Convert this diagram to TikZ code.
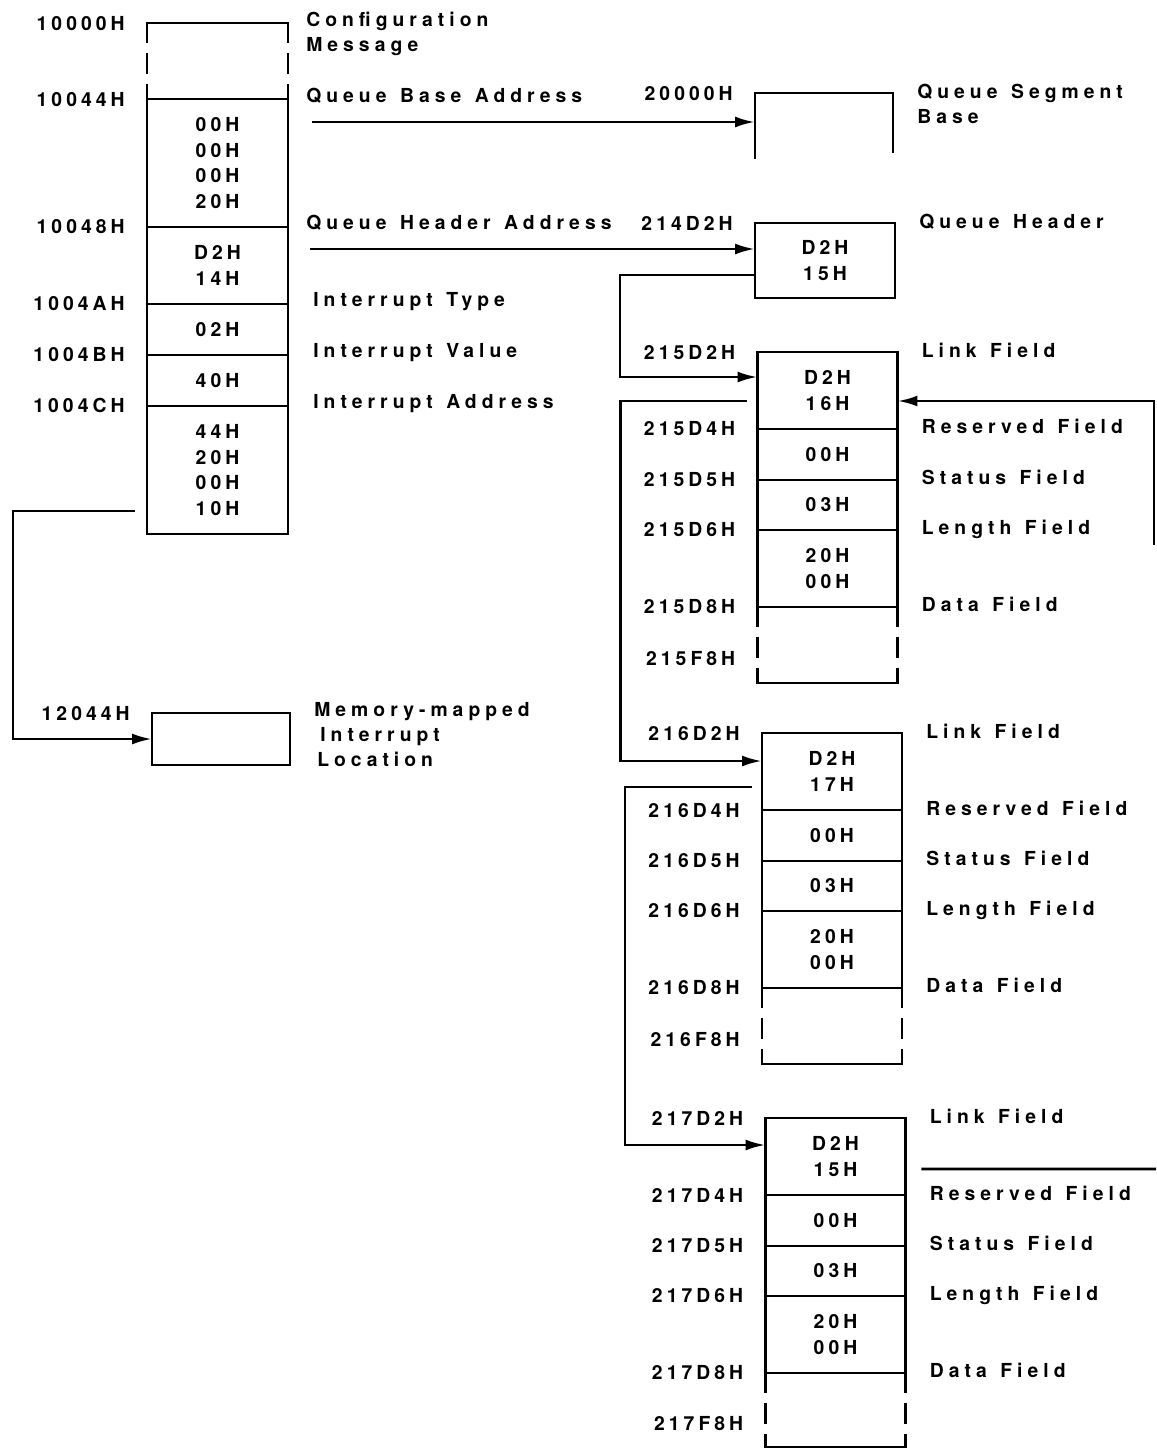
\documentclass[tikz,border=0pt]{standalone}
\usepackage{fontspec}
\newfontfamily\numfont[LetterSpace=21]{TeX Gyre Heros Bold}
\newfontfamily\wordfont[LetterSpace=26,WordSpace=1.3]{TeX Gyre Heros Bold}
\usetikzlibrary{positioning,arrows.meta}

\begin{document}
\begin{tikzpicture}[
  x=0.02cm, y=-0.02cm,
  >={Latex[length=4mm,width=2.2mm]},
  wire/.style={line width=1.6pt},
  link/.style={wire, ->},
  gapside/.style={wire, dash pattern=on 0.4cm off 0.2cm on 0.42cm off 0.2cm on 0.4cm},
  cell/.style={draw, line width=1.6pt, outer sep=0pt, inner sep=0pt, minimum width=2.8cm,
               align=center, font=\numfont\fontsize{11}{14.5}\selectfont},
  hole/.style={cell, draw=none},
  addr/.style={anchor=base east, inner sep=0pt, xshift=-0.44cm, yshift=-0.14cm,
               font=\numfont\fontsize{11}{14.5}\selectfont},
  tag/.style={anchor=base west, inner sep=0pt, xshift=0.48cm, yshift=-0.1cm, align=left,
              font=\wordfont\fontsize{11}{14.5}\selectfont},
  tagtwo/.style={tag, yshift=-14.5pt},
  tagthree/.style={tag, yshift=-29pt}
]
\useasboundingbox (0,0) rectangle (1156,1450);

% configuration message in memory
\node[cell, minimum width=2.82cm, minimum height=2.56cm] (c1) at (217.5,163) {00H\\00H\\00H\\20H};
\node[hole, minimum width=2.82cm, minimum height=1.52cm, above=0pt of c1] (cfg) {};
\node[cell, minimum width=2.82cm, minimum height=1.54cm, below=0pt of c1] (c2) {D2H\\14H};
\node[cell, minimum width=2.82cm, minimum height=1.02cm, below=0pt of c2] (c3) {02H};
\node[cell, minimum width=2.82cm, minimum height=1.02cm, below=0pt of c3] (c4) {40H};
\node[cell, minimum width=2.82cm, minimum height=2.56cm, below=0pt of c4] (c5) {44H\\20H\\00H\\10H};
\draw[wire, line cap=rect] (cfg.north west) -- (cfg.north east);
\draw[gapside] (cfg.north west) -- (cfg.south west) (cfg.north east) -- (cfg.south east);

\node[addr] (a10000) at (cfg.north west) {10000H};
\node[addr] (a10044) at (c1.north west)  {10044H};
\node[addr] (a10048) at (c2.north west)  {10048H};
\node[addr] (a1004a) at (c3.north west)  {1004AH};
\node[addr] (a1004b) at (c4.north west)  {1004BH};
\node[addr] (a1004c) at (c5.north west)  {1004CH};

\node[tagtwo, xshift=-0.12cm, yshift=0.04cm] (tcfg) at (cfg.north east) {Configuration\\Message};
\node[tag, xshift=-0.12cm, yshift=0.04cm] (tqba) at (c1.north east)  {Queue Base Address};
\node[tag, xshift=-0.12cm, yshift=0.04cm] (tqha) at (c2.north east)  {Queue Header Address};
\node[tag, xshift=0.02cm, yshift=0.04cm]  (tity) at (c3.north east)  {Interrupt Type};
\node[tag, xshift=0.02cm, yshift=0.04cm]  (tiva) at (c4.north east)  {Interrupt Value};
\node[tag, xshift=0.02cm, yshift=0.04cm]  (tiad) at (c5.north east)  {Interrupt Address};

% memory-mapped interrupt
\node[cell, minimum width=2.76cm, minimum height=1.04cm] (mmi) at (221,739) {};
\node[addr] (a12044) at (mmi.north west) {12044H};
\node[tagthree, yshift=0.04cm] (tmmi) at (mmi.north east)
  {Memory-mapped\\\hspace{0.12cm}Interrupt\\\hspace{0.06cm}Location};

% queue segment and header
\node[hole, minimum width=2.76cm, minimum height=1.3cm] (seg) at (824,125.5) {};
\draw[wire, line cap=rect] (seg.south west) -- (seg.north west) -- (seg.north east)
  -- ([yshift=0.12cm]seg.south east);
\node[addr] (a20000) at (seg.north west) {20000H};
\node[tagtwo] (tseg) at (seg.north east) {Queue Segment\\Base};

\node[cell, minimum height=1.5cm] (qhdr) at (825,260.5) {D2H\\15H};
\node[addr] (a214d2) at (qhdr.north west) {214D2H};
\node[tag] (tqhdr) at (qhdr.north east) {Queue Header};

% first queue element
\node[cell, minimum height=1.54cm] (b1link) at (827.5,390.5) {D2H\\16H};
\node[cell, minimum height=1.02cm, below=0pt of b1link] (b1res)  {00H};
\node[cell, minimum height=1.0cm,  below=0pt of b1res]  (b1stat) {03H};
\node[cell, minimum height=1.54cm, below=0pt of b1stat] (b1len)  {20H\\00H};
\node[hole, minimum height=1.52cm, below=0pt of b1len]  (b1data) {};
\draw[gapside] (b1data.north west) -- (b1data.south west) (b1data.north east) -- (b1data.south east);
\draw[wire, line cap=rect] (b1data.south west) -- (b1data.south east);
\node[addr] (a215d2) at (b1link.north west) {215D2H};
\node[addr] (a215d4) at (b1res.north west)  {215D4H};
\node[addr] (a215d5) at (b1stat.north west) {215D5H};
\node[addr] (a215d6) at (b1len.north west)  {215D6H};
\node[addr] (a215d8) at (b1data.north west) {215D8H};
\node[addr] (a215f8) at ([yshift=-1.04cm]b1data.north west) {215F8H};
\node[tag] (t1link) at (b1link.north east) {Link Field};
\node[tag] (t1res)  at (b1res.north east)  {Reserved Field};
\node[tag] (t1stat) at (b1stat.north east) {Status Field};
\node[tag] (t1len)  at (b1len.north east)  {Length Field};
\node[tag] (t1data) at (b1data.north east) {Data Field};

% second queue element
\node[cell, minimum height=1.54cm] (b2link) at (832,771.5) {D2H\\17H};
\node[cell, minimum height=1.02cm, below=0pt of b2link] (b2res)  {00H};
\node[cell, minimum height=1.0cm,  below=0pt of b2res]  (b2stat) {03H};
\node[cell, minimum height=1.54cm, below=0pt of b2stat] (b2len)  {20H\\00H};
\node[hole, minimum height=1.52cm, below=0pt of b2len]  (b2data) {};
\draw[gapside] (b2data.north west) -- (b2data.south west) (b2data.north east) -- (b2data.south east);
\draw[wire, line cap=rect] (b2data.south west) -- (b2data.south east);
\node[addr] (a216d2) at (b2link.north west) {216D2H};
\node[addr] (a216d4) at (b2res.north west)  {216D4H};
\node[addr] (a216d5) at (b2stat.north west) {216D5H};
\node[addr] (a216d6) at (b2len.north west)  {216D6H};
\node[addr] (a216d8) at (b2data.north west) {216D8H};
\node[addr] (a216f8) at ([yshift=-1.04cm]b2data.north west) {216F8H};
\node[tag] (t2link) at (b2link.north east) {Link Field};
\node[tag] (t2res)  at (b2res.north east)  {Reserved Field};
\node[tag] (t2stat) at (b2stat.north east) {Status Field};
\node[tag] (t2len)  at (b2len.north east)  {Length Field};
\node[tag] (t2data) at (b2data.north east) {Data Field};

% third queue element
\node[cell, minimum height=1.54cm] (b3link) at (835.5,1156.5) {D2H\\15H};
\node[cell, minimum height=1.02cm, below=0pt of b3link] (b3res)  {00H};
\node[cell, minimum height=1.0cm,  below=0pt of b3res]  (b3stat) {03H};
\node[cell, minimum height=1.54cm, below=0pt of b3stat] (b3len)  {20H\\00H};
\node[hole, minimum height=1.48cm, below=0pt of b3len]  (b3data) {};
\draw[gapside] (b3data.north west) -- (b3data.south west) (b3data.north east) -- (b3data.south east);
\draw[wire, line cap=rect] (b3data.south west) -- (b3data.south east);
\node[addr] (a217d2) at (b3link.north west) {217D2H};
\node[addr] (a217d4) at (b3res.north west)  {217D4H};
\node[addr] (a217d5) at (b3stat.north west) {217D5H};
\node[addr] (a217d6) at (b3len.north west)  {217D6H};
\node[addr] (a217d8) at (b3data.north west) {217D8H};
\node[addr] (a217f8) at ([yshift=-1.02cm]b3data.north west) {217F8H};
\node[tag] (t3link) at (b3link.north east) {Link Field};
\node[tag] (t3res)  at (b3res.north east)  {Reserved Field};
\node[tag] (t3stat) at (b3stat.north east) {Status Field};
\node[tag] (t3len)  at (b3len.north east)  {Length Field};
\node[tag] (t3data) at (b3data.north east) {Data Field};

% pointers
\coordinate (qbastart) at (312,122);
\coordinate (qhastart) at (310,249);
\coordinate (iastart) at (135,511);
\coordinate (wrapstart) at (1156,1169);
\coordinate (wrapend) at (1154,545);

\draw[link] (qbastart) -- (qbastart -| seg.west);
\draw[link] (qhastart) -- (qhastart -| qhdr.west);
\draw[link] ([yshift=-1.04cm]qhdr.north west) -- ++(-135,0) |- ([yshift=-0.5cm]b1link.north west);
\draw[link] ([xshift=-0.22cm,yshift=-0.98cm]b1link.north west) -- ++(-126,0)
  |- ([yshift=-0.56cm]b2link.north west);
\draw[link] ([xshift=-0.2cm,yshift=-1.08cm]b2link.north west) -- ++(-127,0)
  |- ([yshift=-0.54cm]b3link.north west);
\draw[wire] ([xshift=0.32cm,yshift=-1.02cm]b3link.north east) -- (wrapstart);
\draw[link] (wrapend) |- ([yshift=-0.98cm]b1link.north east);
\draw[link] (iastart) -- (13,511) |- (mmi.west);
\end{tikzpicture}
\end{document}
